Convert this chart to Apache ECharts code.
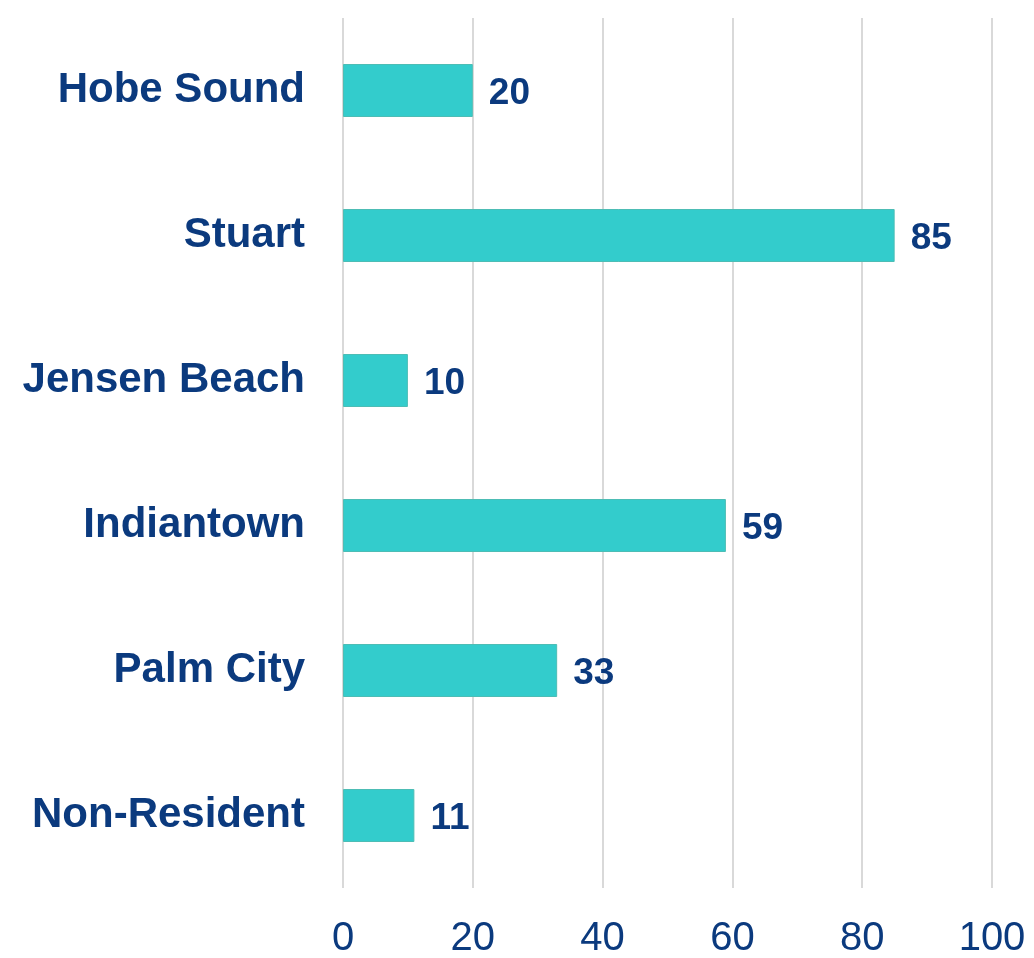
<!DOCTYPE html>
<html><head><meta charset="utf-8">
<script src="https://cdn.jsdelivr.net/npm/echarts@6/dist/echarts.min.js"></script>
<style>html,body{margin:0;padding:0;background:#fff}#c{width:1034px;height:958px}</style>
</head><body><div id="c"></div>
<script>
const categories = ["Hobe Sound", "Stuart", "Jensen Beach", "Indiantown", "Palm City", "Non-Resident"];
const values = [20, 85, 10, 59, 33, 11];
const xTicks = [0, 20, 40, 60, 80, 100];

const navy = '#0B3A7E';
const ff = '"Liberation Sans", Arial, sans-serif';
const chart = echarts.init(document.getElementById('c'), null, {renderer: 'canvas'});
chart.setOption({
  animation: false,
  backgroundColor: '#ffffff',
  grid: {left: 343, right: 42, top: 18, bottom: 70, containLabel: false, outerBoundsMode: 'none'},
  xAxis: {
    type: 'value', min: xTicks[0], max: xTicks[xTicks.length - 1], interval: 20,
    axisLine: {show: false}, axisTick: {show: false},
    splitLine: {show: true, lineStyle: {color: '#d9d9d9', width: 2}},
    axisLabel: {color: navy, fontFamily: ff, fontSize: 40, margin: 31}
  },
  yAxis: {
    type: 'category', data: categories, inverse: true,
    axisLine: {show: false}, axisTick: {show: false},
    axisLabel: {color: navy, fontFamily: ff, fontSize: 42, fontWeight: 'bold', margin: 38, padding: [8, 0, 0, 0]}
  },
  series: [{
    type: 'bar', data: values, barWidth: 53,
    itemStyle: {color: '#33CCCC', borderColor: '#4DBDB5', borderWidth: 1},
    label: {show: true, position: 'right', distance: 16, offset: [0, 3], color: navy,
      fontFamily: ff, fontSize: 37, fontWeight: 'bold'}
  }]
});
</script></body></html>
